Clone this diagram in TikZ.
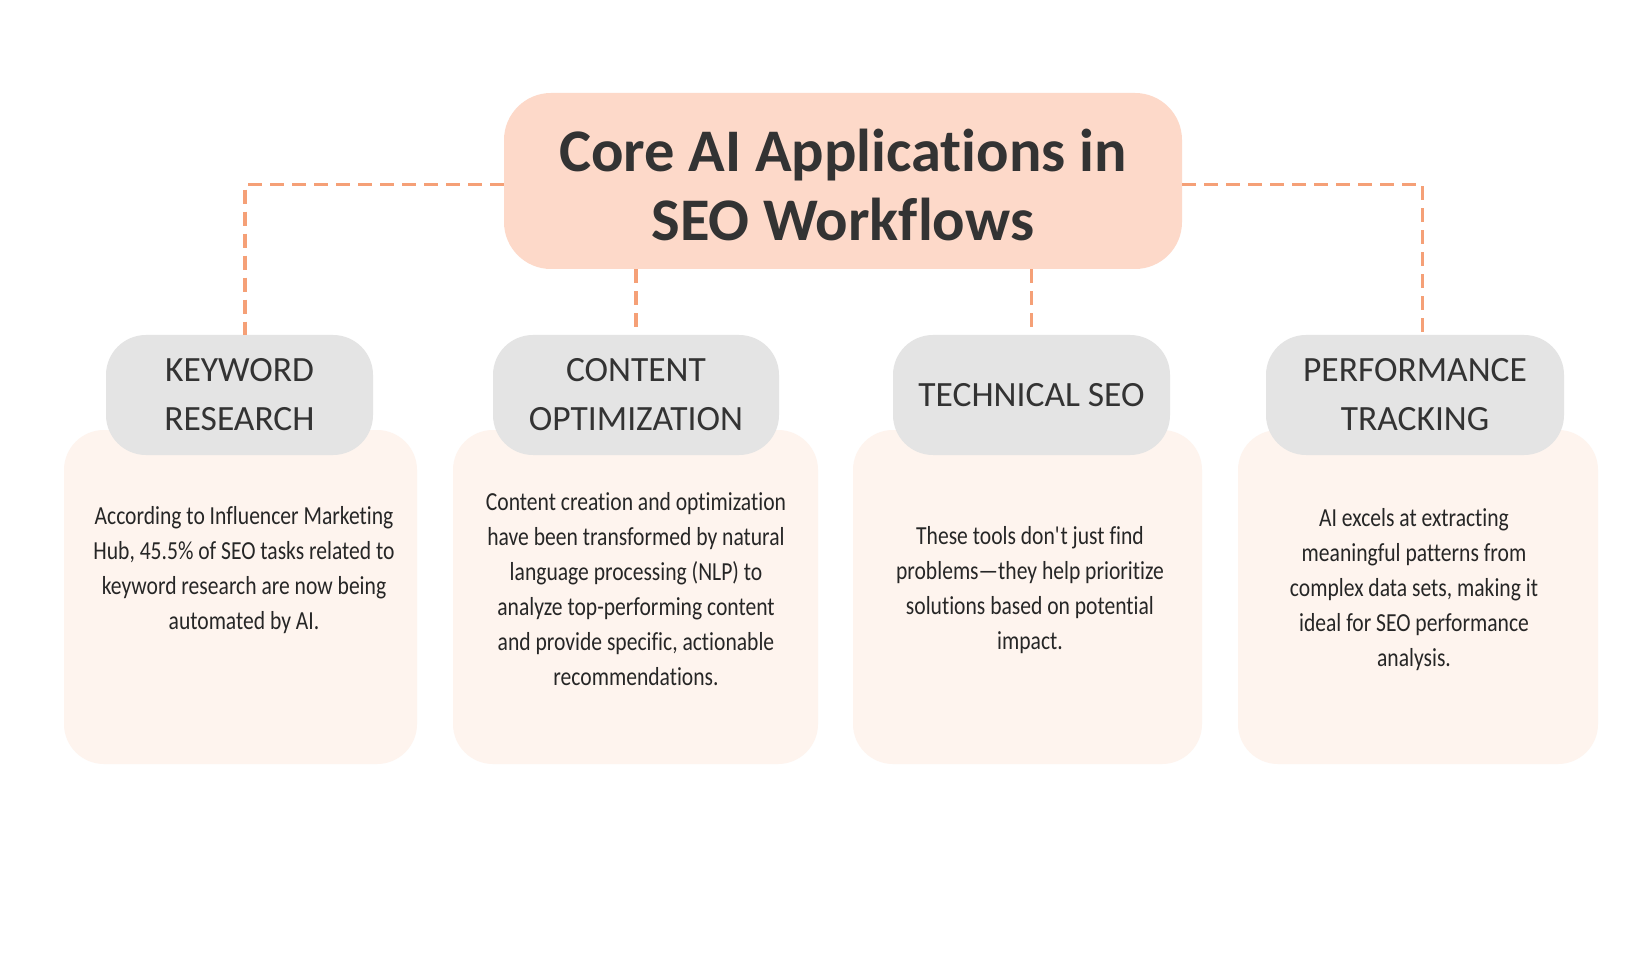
\documentclass[tikz,border=0pt]{standalone}
\usepackage{fontspec}
\setmainfont[Ligatures={TeX,NoCommon}]{Carlito}
\newfontfamily\bodyfont[FakeStretch=0.83,Ligatures={TeX,NoCommon}]{Carlito}
\newfontfamily\hdrfont[Ligatures={TeX,NoCommon}]{Carlito}
\definecolor{dashor}{HTML}{F5A077}
\definecolor{titlefill}{HTML}{FDD9C9}
\definecolor{hdrfill}{HTML}{E4E4E4}
\definecolor{bodyfill}{HTML}{FEF4EE}
\definecolor{ink}{HTML}{333333}
\definecolor{bodyink}{HTML}{262626}
\begin{document}
\begin{tikzpicture}[x=1pt,y=-1pt,
  titlebox/.style={fill=titlefill, rounded corners=47pt, minimum width=678pt, minimum height=176pt, inner sep=0pt},
  hdrbox/.style={fill=hdrfill, rounded corners=40pt, minimum height=120pt, inner sep=0pt},
  bodybox/.style={fill=bodyfill, rounded corners=40pt, minimum height=334pt, inner sep=0pt},
  hdrtext/.style={text=ink, align=center, font=\hdrfont\fontsize{35.5}{49}\selectfont},
  bodytext/.style={text=bodyink, align=center, font=\bodyfont\fontsize{26}{35}\selectfont},
  conn/.style={draw=dashor, line width=3.4pt, dash pattern=on 14pt off 8pt}
]
\useasboundingbox[fill=white] (0,0) rectangle (1644,957);

% body boxes
\node[bodybox, minimum width=353pt] (b1) at (240.5,597) {};
\node[bodybox, minimum width=365pt] (b2) at (635.5,597) {};
\node[bodybox, minimum width=349pt] (b3) at (1027.5,597) {};
\node[bodybox, minimum width=360pt] (b4) at (1418,597) {};

% header boxes
\node[hdrbox, minimum width=267pt] (h1) at (239.5,395) {};
\node[hdrbox, minimum width=286pt] (h2) at (636,395) {};
\node[hdrbox, minimum width=277pt] (h3) at (1031.5,395) {};
\node[hdrbox, minimum width=298pt] (h4) at (1415,395) {};

% title
\node[titlebox] (title) at (843,181) {};

% connectors
\draw[conn] ([yshift=-3.5pt]title.west) -| ([xshift=5.5pt]h1.north);
\draw[conn] ([yshift=-3.5pt]title.east) -| ([xshift=7.5pt]h4.north);
\draw[conn] (h2.north |- title.south) -- (h2.north);
\draw[conn] (h3.north |- title.south) -- (h3.north);

% texts
\node[text=ink, align=center, font=\fontsize{60.5}{69}\selectfont\bfseries] (tt) at ([yshift=-4pt]title.center) {Core AI Applications in\\SEO Workflows};

\node[hdrtext] (t1) at (h1.center) {KEYWORD\\RESEARCH};
\node[hdrtext] (t2) at (h2.center) {CONTENT\\OPTIMIZATION};
\node[hdrtext] (t3) at (h3.center) {TECHNICAL SEO};
\node[hdrtext] (t4) at (h4.center) {PERFORMANCE\\TRACKING};

\node[bodytext] (x1) at (244,570) {According to Influencer Marketing\\Hub, 45.5\% of SEO tasks related to\\keyword research are now being\\automated by AI.};
\node[bodytext] (x2) at (636,589) {Content creation and optimization\\have been transformed by natural\\language processing (NLP) to\\analyze top-performing content\\and provide specific, actionable\\recommendations.};
\node[bodytext] (x3) at (1030,590) {These tools don\textquotesingle t just find\\problems\textemdash they help prioritize\\solutions based on potential\\impact.};
\node[bodytext] (x4) at (1414,589.5) {AI excels at extracting\\meaningful patterns from\\complex data sets, making it\\ideal for SEO performance\\analysis.};
\end{tikzpicture}
\end{document}
